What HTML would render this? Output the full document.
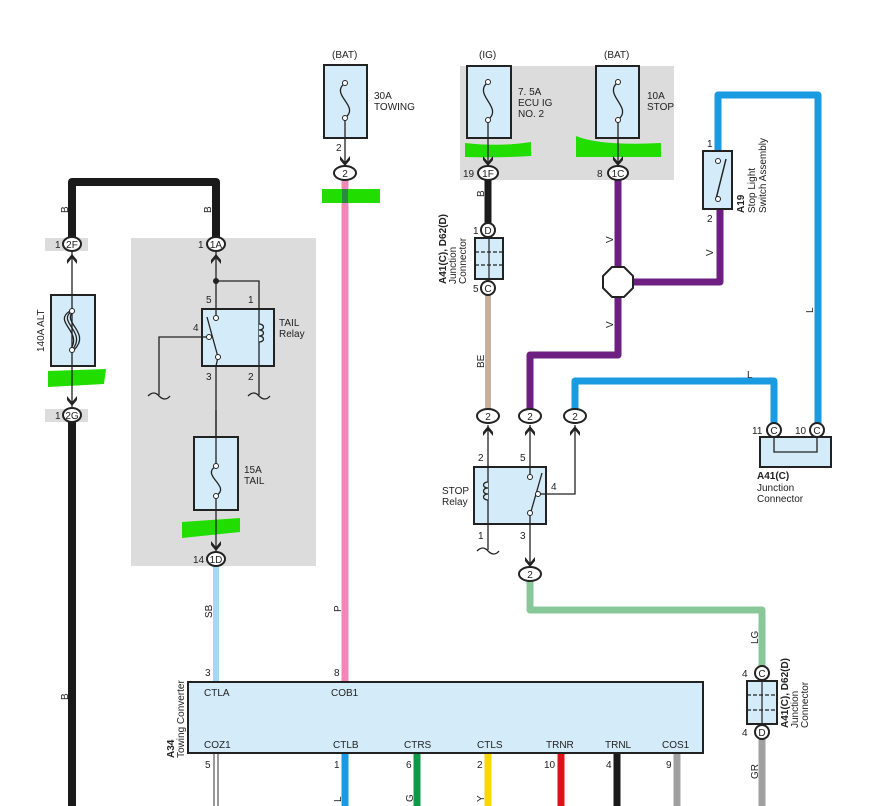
<!DOCTYPE html>
<html><head><meta charset="utf-8"><style>
html,body{margin:0;padding:0;background:#fff;}
svg{display:block;font-family:"Liberation Sans",sans-serif;}
text{font-size:10px;fill:#222;}
</style></head><body>
<svg width="892" height="806" viewBox="0 0 892 806" xmlns="http://www.w3.org/2000/svg">
<defs>
<g id="dn"><path d="M-5,-6 L0,0 L5,-6 L5,-2 L0,4 L-5,-2Z" fill="#222"/></g>
<g id="up"><path d="M-5,6 L0,0 L5,6 L5,2 L0,-4 L-5,2Z" fill="#222"/></g>
</defs>
<rect x="131" y="238" width="185" height="328" fill="#dcdcdc"/>
<rect x="460" y="66" width="214" height="114" fill="#dcdcdc"/>
<rect x="45" y="238" width="43" height="13" fill="#dcdcdc"/>
<rect x="45" y="409" width="43" height="13" fill="#dcdcdc"/>

<path d="M72,244 V182 H216 V244" fill="none" stroke="#1a1a1a" stroke-width="8" stroke-linejoin="round"/>
<line x1="72" y1="420" x2="72" y2="806" stroke="#1a1a1a" stroke-width="8"/>
<line x1="345" y1="180" x2="345" y2="682" stroke="#ef88b8" stroke-width="7"/>
<line x1="216" y1="566" x2="216" y2="682" stroke="#a6d8f2" stroke-width="6"/>
<line x1="488" y1="178" x2="488" y2="224" stroke="#1a1a1a" stroke-width="7"/>
<line x1="488" y1="294" x2="488" y2="410" stroke="#c8b09c" stroke-width="6"/>
<path d="M618,178 V355 H530 V410" fill="none" stroke="#6e1f82" stroke-width="7" stroke-linejoin="round"/>
<path d="M633,282 H720 V209" fill="none" stroke="#6e1f82" stroke-width="7" stroke-linejoin="round"/>
<path d="M718,151 V95 H818 V425" fill="none" stroke="#1a9ae0" stroke-width="7" stroke-linejoin="round"/>
<path d="M575,410 V381 H774 V425" fill="none" stroke="#1a9ae0" stroke-width="7" stroke-linejoin="round"/>
<path d="M530,580 V610 H762 V668" fill="none" stroke="#88c898" stroke-width="7" stroke-linejoin="round"/>
<line x1="762" y1="738" x2="762" y2="806" stroke="#a0a0a0" stroke-width="7"/>
<line x1="214" y1="753" x2="214" y2="806" stroke="#333" stroke-width="1"/>
<line x1="218" y1="753" x2="218" y2="806" stroke="#333" stroke-width="1"/>
<line x1="345" y1="753" x2="345" y2="806" stroke="#1a9ae0" stroke-width="7"/>
<line x1="417" y1="753" x2="417" y2="806" stroke="#0f9a48" stroke-width="7"/>
<line x1="488" y1="753" x2="488" y2="806" stroke="#f8d800" stroke-width="7"/>
<line x1="561" y1="753" x2="561" y2="806" stroke="#e01018" stroke-width="7"/>
<line x1="617" y1="753" x2="617" y2="806" stroke="#1a1a1a" stroke-width="7"/>
<line x1="677" y1="753" x2="677" y2="806" stroke="#a0a0a0" stroke-width="7"/>

<path d="M48,371 L106,369 L104,384 L48,387Z" fill="#22dd00"/>
<path d="M182,522 L240,518 L240,532 L182,538Z" fill="#22dd00"/>
<path d="M322,189 H380 V203 H322Z" fill="#22dd00"/>
<rect x="342" y="189" width="6" height="14" fill="#2a8a40"/>
<path d="M465,143 Q500,147 531,142 V156 Q500,158 465,157Z" fill="#22dd00"/>
<path d="M576,136 Q600,146 661,143 V157 H576Z" fill="#22dd00"/>

<g stroke="#222" stroke-width="2" fill="#d4ecf9">
<rect x="51" y="295" width="44" height="71"/>
<rect x="194" y="437" width="44" height="73"/>
<rect x="324" y="65" width="43" height="73"/>
<rect x="467" y="66" width="44" height="72"/>
<rect x="596" y="66" width="43" height="72"/>
</g>
<g fill="none" stroke="#222" stroke-width="1.3">
<line x1="72" y1="251" x2="72" y2="410"/>
<path d="M72,311 C56,322 88,332 72,350"/>
<path d="M74,311 C60,322 92,332 74,350"/>
<path d="M70,311 C52,322 84,332 70,350"/>
<line x1="216" y1="410" x2="216" y2="466"/>
<line x1="216" y1="496" x2="216" y2="553"/>
<path d="M216,466 C200,476 232,486 216,496"/>
<line x1="345" y1="118" x2="345" y2="166"/>
<path d="M345,83 C329,95 361,106 345,118"/>
<line x1="488" y1="120" x2="488" y2="166"/>
<path d="M488,82 C472,95 504,107 488,120"/>
<line x1="618" y1="120" x2="618" y2="166"/>
<path d="M618,82 C602,95 634,107 618,120"/>
</g>
<g fill="#fff" stroke="#222" stroke-width="1">
<circle cx="72" cy="311" r="2.5"/><circle cx="72" cy="350" r="2.5"/>
<circle cx="216" cy="466" r="2.5"/><circle cx="216" cy="496" r="2.5"/>
<circle cx="345" cy="83" r="2.5"/><circle cx="345" cy="118" r="2.5"/>
<circle cx="488" cy="82" r="2.5"/><circle cx="488" cy="120" r="2.5"/>
<circle cx="618" cy="82" r="2.5"/><circle cx="618" cy="120" r="2.5"/>
</g>

<g fill="none" stroke="#222" stroke-width="1.3">
<line x1="216" y1="251" x2="216" y2="318"/>
<line x1="216" y1="357" x2="216" y2="437"/>
<path d="M216,281 H259 V395"/>
<path d="M202,337 H159 V395"/>
<path d="M148,396 q6,-6 11,0 q6,6 11,0"/>
<path d="M248,396 q6,-6 11,0 q6,6 11,0"/>
</g>
<circle cx="216" cy="281" r="3" fill="#222"/>
<rect x="202" y="309" width="72" height="57" fill="#d4ecf9" stroke="#222" stroke-width="2"/>
<g fill="none" stroke="#222" stroke-width="1.3">
<line x1="259" y1="309" x2="259" y2="366"/>
<line x1="216" y1="309" x2="216" y2="318"/>
<line x1="218" y1="357" x2="216" y2="366"/>
<path d="M259,324 c6,0 6,6 0,6 c6,0 6,6 0,6 c6,0 6,6 0,6" fill="#d4ecf9"/>
<line x1="207" y1="317" x2="218" y2="357"/>
<line x1="202" y1="337" x2="209" y2="337"/>
</g>
<g fill="#fff" stroke="#222" stroke-width="1"><circle cx="216" cy="318" r="2.5"/><circle cx="209" cy="337" r="2.5"/><circle cx="218" cy="357" r="2.5"/></g>

<g fill="none" stroke="#222" stroke-width="1.3">
<line x1="488" y1="425" x2="488" y2="550"/>
<line x1="530" y1="425" x2="530" y2="566"/>
<path d="M546,494 H575 V425"/>
<path d="M477,551 q6,-6 11,0 q6,6 11,0"/>
</g>
<rect x="474" y="467" width="72" height="57" fill="#d4ecf9" stroke="#222" stroke-width="2"/>
<g fill="none" stroke="#222" stroke-width="1.3">
<line x1="488" y1="467" x2="488" y2="524"/>
<path d="M488,482 c-6,0 -6,6 0,6 c-6,0 -6,6 0,6 c-6,0 -6,6 0,6" fill="#d4ecf9"/>
<line x1="530" y1="467" x2="530" y2="477"/>
<line x1="530" y1="515" x2="530" y2="524"/>
<line x1="542" y1="473" x2="530" y2="515"/>
<line x1="538" y1="494" x2="546" y2="494"/>
</g>
<g fill="#fff" stroke="#222" stroke-width="1"><circle cx="530" cy="477" r="2.5"/><circle cx="538" cy="494" r="2.5"/><circle cx="530" cy="513" r="2.5"/></g>

<rect x="703" y="151" width="29" height="58" fill="#d4ecf9" stroke="#222" stroke-width="2"/>
<line x1="716" y1="199" x2="726" y2="159" stroke="#222" stroke-width="1.5"/>
<g fill="#fff" stroke="#222" stroke-width="1"><circle cx="718" cy="161" r="2.5"/><circle cx="718" cy="199" r="2.5"/></g>

<polygon points="612,267 624,267 633,276 633,288 624,297 612,297 603,288 603,276" fill="#fff" stroke="#222" stroke-width="2"/>

<rect x="475" y="238" width="28" height="41" fill="#d4ecf9" stroke="#222" stroke-width="2"/>
<g stroke="#222" stroke-width="1.3" stroke-dasharray="4,2"><line x1="475" y1="252" x2="503" y2="252"/><line x1="475" y1="265" x2="503" y2="265"/></g>
<line x1="489" y1="238" x2="489" y2="279" stroke="#222" stroke-width="1.2"/>
<rect x="747" y="681" width="30" height="43" fill="#d4ecf9" stroke="#222" stroke-width="2"/>
<g stroke="#222" stroke-width="1.3" stroke-dasharray="4,2"><line x1="747" y1="695" x2="777" y2="695"/><line x1="747" y1="710" x2="777" y2="710"/></g>
<line x1="762" y1="681" x2="762" y2="724" stroke="#222" stroke-width="1.2"/>
<rect x="760" y="437" width="71" height="30" fill="#d4ecf9" stroke="#222" stroke-width="2"/>
<path d="M774,437 V452 H817 V437" fill="none" stroke="#222" stroke-width="1.3"/>

<rect x="188" y="682" width="515" height="71" fill="#d4ecf9" stroke="#222" stroke-width="2"/>

<g fill="#fff" stroke="#222" stroke-width="2">
<ellipse cx="72" cy="244" rx="9" ry="7"/>
<ellipse cx="72" cy="415" rx="9" ry="7"/>
<ellipse cx="216" cy="244" rx="9" ry="7"/>
<ellipse cx="216" cy="559" rx="9" ry="7"/>
<ellipse cx="345" cy="173" rx="11" ry="7"/>
<ellipse cx="488" cy="173" rx="10" ry="7"/>
<ellipse cx="618" cy="173" rx="10" ry="7"/>
<circle cx="488" cy="230" r="7"/>
<circle cx="488" cy="288" r="7"/>
<ellipse cx="488" cy="416" rx="11" ry="7"/>
<ellipse cx="530" cy="416" rx="11" ry="7"/>
<ellipse cx="575" cy="416" rx="11" ry="7"/>
<ellipse cx="530" cy="574" rx="11" ry="7"/>
<circle cx="774" cy="430" r="7"/>
<circle cx="817" cy="430" r="7"/>
<circle cx="762" cy="673" r="7"/>
<circle cx="762" cy="732" r="7"/>
</g>
<g font-size="10" text-anchor="middle">
<text x="72" y="248">2F</text><text x="72" y="419">2G</text>
<text x="216" y="248">1A</text><text x="216" y="563">1D</text>
<text x="345" y="177">2</text><text x="488" y="177">1F</text><text x="618" y="177">1C</text>
<text x="488" y="234">D</text><text x="488" y="292">C</text>
<text x="488" y="420">2</text><text x="530" y="420">2</text><text x="575" y="420">2</text><text x="530" y="578">2</text>
<text x="774" y="434">C</text><text x="817" y="434">C</text>
<text x="762" y="677">C</text><text x="762" y="736">D</text>
</g>

<use href="#up" x="72" y="258"/><use href="#dn" x="72" y="402"/>
<use href="#up" x="216" y="258"/><use href="#dn" x="216" y="547"/>
<use href="#dn" x="345" y="162"/><use href="#dn" x="488" y="162"/><use href="#dn" x="618" y="162"/>
<use href="#up" x="488" y="430"/><use href="#up" x="530" y="430"/><use href="#up" x="575" y="430"/>
<use href="#dn" x="530" y="563"/>

<g font-size="10">
<text x="55" y="248">1</text><text x="55" y="419">1</text>
<text x="198" y="248">1</text><text x="193" y="563">14</text>
<text x="336" y="151">2</text>
<text x="463" y="177">19</text><text x="597" y="177">8</text>
<text x="473" y="234">1</text><text x="473" y="292">5</text>
<text x="206" y="303">5</text><text x="248" y="303">1</text><text x="193" y="331">4</text>
<text x="206" y="380">3</text><text x="248" y="380">2</text>
<text x="478" y="461">2</text><text x="520" y="461">5</text><text x="551" y="490">4</text>
<text x="478" y="539">1</text><text x="520" y="539">3</text>
<text x="707" y="147">1</text><text x="707" y="222">2</text>
<text x="752" y="434">11</text><text x="795" y="434">10</text>
<text x="742" y="677">4</text><text x="742" y="736">4</text>
<text x="205" y="676">3</text><text x="334" y="676">8</text>
<text x="205" y="768">5</text><text x="334" y="768">1</text><text x="406" y="768">6</text><text x="477" y="768">2</text><text x="544" y="768">10</text><text x="606" y="768">4</text><text x="666" y="768">9</text>
<text x="332" y="58">(BAT)</text><text x="479" y="58">(IG)</text><text x="604" y="58">(BAT)</text>
<text x="374" y="99">30A</text><text x="374" y="110">TOWING</text>
<text x="518" y="95">7. 5A</text><text x="518" y="106">ECU IG</text><text x="518" y="117">NO. 2</text>
<text x="647" y="99">10A</text><text x="647" y="110">STOP</text>
<text x="279" y="326">TAIL</text><text x="279" y="337">Relay</text>
<text x="244" y="473">15A</text><text x="244" y="484">TAIL</text>
<text x="442" y="494">STOP</text><text x="442" y="505">Relay</text>
<text x="757" y="479" font-weight="bold">A41(C)</text><text x="757" y="491">Junction</text><text x="757" y="502">Connector</text>
<text x="204" y="696">CTLA</text><text x="331" y="696">COB1</text>
<text x="204" y="748">COZ1</text><text x="333" y="748">CTLB</text><text x="404" y="748">CTRS</text><text x="477" y="748">CTLS</text><text x="546" y="748">TRNR</text><text x="605" y="748">TRNL</text><text x="662" y="748">COS1</text>
<text x="747" y="378">L</text>
</g>
<g font-size="10">
<text transform="translate(68,213) rotate(-90)">B</text>
<text transform="translate(211,213) rotate(-90)">B</text>
<text transform="translate(68,700) rotate(-90)">B</text>
<text transform="translate(44,352) rotate(-90)">140A ALT</text>
<text transform="translate(212,618) rotate(-90)">SB</text>
<text transform="translate(341,612) rotate(-90)">P</text>
<text transform="translate(484,197) rotate(-90)">B</text>
<text transform="translate(484,368) rotate(-90)">BE</text>
<text transform="translate(613,243) rotate(-90)">V</text>
<text transform="translate(613,328) rotate(-90)">V</text>
<text transform="translate(713,256) rotate(-90)">V</text>
<text transform="translate(813,313) rotate(-90)">L</text>
<text transform="translate(758,644) rotate(-90)">LG</text>
<text transform="translate(758,779) rotate(-90)">GR</text>
<text transform="translate(341,802) rotate(-90)">L</text>
<text transform="translate(413,802) rotate(-90)">G</text>
<text transform="translate(484,802) rotate(-90)">Y</text>
<text transform="translate(446,284) rotate(-90)" font-weight="bold">A41(C), D62(D)</text>
<text transform="translate(456,284) rotate(-90)">Junction</text>
<text transform="translate(466,284) rotate(-90)">Connector</text>
<text transform="translate(744,213) rotate(-90)" font-weight="bold">A19</text>
<text transform="translate(755,213) rotate(-90)">Stop Light</text>
<text transform="translate(766,213) rotate(-90)">Switch Assembly</text>
<text transform="translate(788,728) rotate(-90)" font-weight="bold">A41(C), D62(D)</text>
<text transform="translate(798,728) rotate(-90)">Junction</text>
<text transform="translate(808,728) rotate(-90)">Connector</text>
<text transform="translate(174,758) rotate(-90)" font-weight="bold">A34</text>
<text transform="translate(184,758) rotate(-90)">Towing Converter</text>
</g>
</svg>
</body></html>
